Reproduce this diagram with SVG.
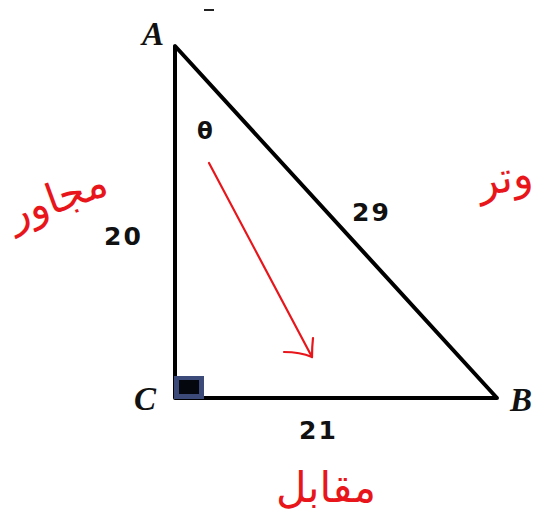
<svg xmlns="http://www.w3.org/2000/svg" width="553" height="517" viewBox="0 0 553 517">
<style>
.side{stroke:#000;stroke-width:4;fill:none;stroke-linecap:round;stroke-linejoin:round}
.vtx{font-family:"Liberation Serif",serif;font-style:italic;font-weight:bold;font-size:33px;fill:#111}
.num{font-family:"DejaVu Sans",sans-serif;font-weight:bold;font-size:25px;fill:#111;letter-spacing:2px}
.ar{font-family:"DejaVu Sans",sans-serif;font-size:42px;fill:#e8161b}
.pen{stroke:#e8161b;stroke-width:2.2;fill:none;stroke-linecap:round;stroke-linejoin:round}
</style>
<rect width="553" height="517" fill="#fff"/>
<g id="triangle">
<path class="side" d="M175,46 L175,398 L497,398 Z"/>
<rect x="174" y="376" width="30" height="23" fill="#3b4a78"/>
<rect x="179" y="380" width="20" height="14" fill="#05070f"/>
</g>
<g id="vertex-A"><text class="vtx" x="142" y="45">A</text></g>
<g id="vertex-B"><text class="vtx" x="510" y="411">B</text></g>
<g id="vertex-C"><text class="vtx" x="134" y="410">C</text></g>
<g id="mark"><line x1="204" y1="10" x2="214" y2="10" stroke="#222" stroke-width="2"/></g>
<g id="angle-theta"><text x="197" y="139" font-family="DejaVu Sans,sans-serif" font-weight="bold" font-size="23" fill="#111">θ</text></g>
<g id="label-20"><text class="num" x="104" y="245">20</text></g>
<g id="label-29"><text class="num" x="352" y="221">29</text></g>
<g id="label-21"><text class="num" x="299" y="439">21</text></g>
<g id="connectors">
<path class="pen" d="M209,163 L312,357"/>
<path class="pen" d="M284,352 Q300,352 312,357 Q312,347 313,338"/>
</g>
<g id="label-adjacent"><text class="ar" x="58" y="212" text-anchor="middle" transform="rotate(-20 58 200)">مجاور</text></g>
<g id="label-hypotenuse"><text class="ar" x="505" y="192" text-anchor="middle" transform="rotate(-10 505 180)">وتر</text></g>
<g id="label-opposite"><text class="ar" x="326" y="502" text-anchor="middle">مقابل</text></g>
</svg>
